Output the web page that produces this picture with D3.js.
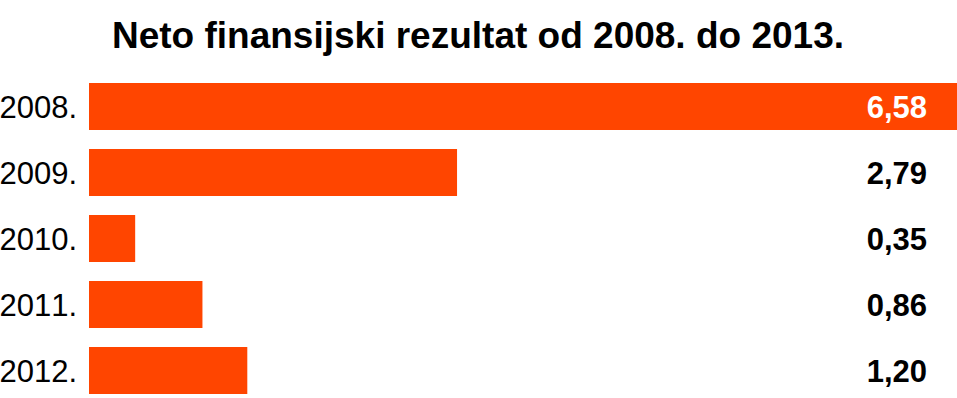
<!DOCTYPE html>
<html>
<head>
<meta charset="utf-8">
<script src="https://cdn.jsdelivr.net/npm/d3@7"></script>
<style>
  body { margin: 0; background: #fff; }
  svg { display: block; }
  text { font-kerning: none; }
</style>
</head>
<body>
<div id="chart"></div>
<script>
// Neto finansijski rezultat - horizontal bars

const title = 'Neto finansijski rezultat od 2008. do 2013.';
const years = ['2008.', '2009.', '2010.', '2011.', '2012.'];
const values = [6.58, 2.79, 0.35, 0.86, 1.20];

const W = 957, H = 398;
const font = '"Liberation Sans", Arial, Helvetica, sans-serif';
const barColor = '#FF4500';

const svg = d3.select('#chart')
  .append('svg')
  .attr('width', W)
  .attr('height', H)
  .attr('viewBox', [0, 0, W, H]);

const x = d3.scaleLinear()
  .domain([0, d3.max(values)])
  .range([89, 957]);

const y = d3.scaleBand()
  .domain(years)
  .range([83, 394])
  .paddingInner(0.288)
  .paddingOuter(0);

const fmt = v => d3.format('.2f')(v).replace('.', ',');

// Title
svg.append('text')
  .attr('x', 478)
  .attr('y', 48)
  .attr('text-anchor', 'middle')
  .attr('font-family', font)
  .attr('font-weight', 'bold')
  .attr('font-size', 37)
  .attr('fill', '#000')
  .text(title);

const rows = svg.append('g').selectAll('g')
  .data(years.map((yr, i) => ({ year: yr, value: values[i] })))
  .enter().append('g');

// Bars
rows.append('rect')
  .attr('x', x(0))
  .attr('y', d => y(d.year))
  .attr('width', d => x(d.value) - x(0))
  .attr('height', y.bandwidth())
  .attr('fill', barColor);

// Year labels
rows.append('text')
  .attr('x', 77)
  .attr('y', d => y(d.year) + y.bandwidth() / 2)
  .attr('dy', '0.36em')
  .attr('text-anchor', 'end')
  .attr('font-family', font)
  .attr('font-size', 31)
  .attr('fill', '#000')
  .text(d => d.year);

// Value labels
rows.append('text')
  .attr('x', 927)
  .attr('y', d => y(d.year) + y.bandwidth() / 2)
  .attr('dy', '0.36em')
  .attr('text-anchor', 'end')
  .attr('font-family', font)
  .attr('font-weight', 'bold')
  .attr('font-size', 31)
  .attr('fill', d => x(d.value) > 927 ? '#fff' : '#000')
  .text(d => fmt(d.value));
</script>
</body>
</html>
